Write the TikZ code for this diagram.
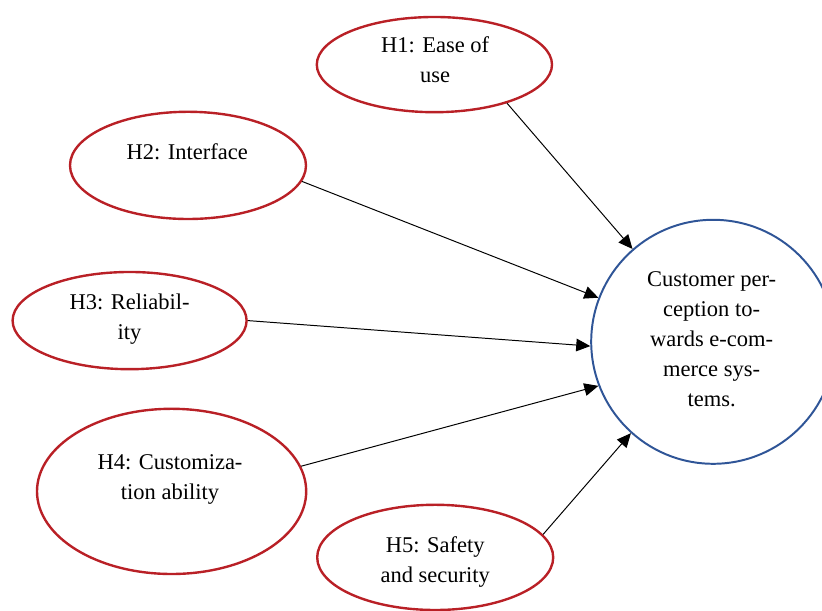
\documentclass[tikz,border=0pt]{standalone}
\usepackage{fontspec}
\setmainfont{Liberation Serif}
\usetikzlibrary{arrows.meta,shapes.geometric}
\definecolor{hypred}{RGB}{185,32,38}
\definecolor{goalblue}{RGB}{47,85,151}

\begin{document}
\begin{tikzpicture}[
    hyp/.style={draw=hypred, line width=1.7pt, ellipse, inner sep=0pt},
    goal/.style={draw=goalblue, line width=1.4pt, circle, inner sep=0pt, minimum size=6.1cm},
    txt/.style={align=center, font=\fontsize{16}{21.3}\selectfont},
    link/.style={line width=0.7pt, -{Triangle[length=10pt,width=9pt]}}
]
            \useasboundingbox (0,0) rectangle (20.55,15.275);
            \node[hyp, minimum width=5.88cm, minimum height=2.38cm] (h1) at (10.86,13.66) {};
            \node[hyp, minimum width=5.9cm, minimum height=2.68cm] (h2) at (4.7,11.14) {};
            \node[hyp, minimum width=5.85cm, minimum height=2.43cm] (h3) at (3.24,7.26) {};
            \node[hyp, minimum width=6.73cm, minimum height=4.13cm] (h4) at (4.29,2.99) {};
            \node[hyp, minimum width=5.9cm, minimum height=2.63cm] (h5) at (10.88,1.34) {};
            \node[goal] (cp) at (17.83,6.73) {};
            \node[txt] (h1-text) at (10.88,13.78) {H1: Ease of\\use};
            \node[txt] (h2-text) at (4.68,11.49) {H2: Interface};
            \node[txt] (h3-text) at (3.24,7.29) {H3: Reliabil-\\ity};
            \node[txt] (h4-text) at (4.25,3.28) {H4: Customiza-\\tion ability};
            \node[txt] (h5-text) at (10.88,1.23) {H5: Safety\\and security};
            \node[txt] (cp-text) at (17.79,6.79) {Customer per-\\ception to-\\wards e-com-\\merce sys-\\tems.};
            \draw[link] (h1.-28) -- (cp.131.5);
            \draw[link] (h2.-8.6) -- (cp.159.6);
            \draw[link] (h3.0) -- (cp.182);
            \draw[link] (h4.11) -- (cp.201);
            \draw[link] (h5.12) -- (cp.228);
        \end{tikzpicture}
\end{document}
